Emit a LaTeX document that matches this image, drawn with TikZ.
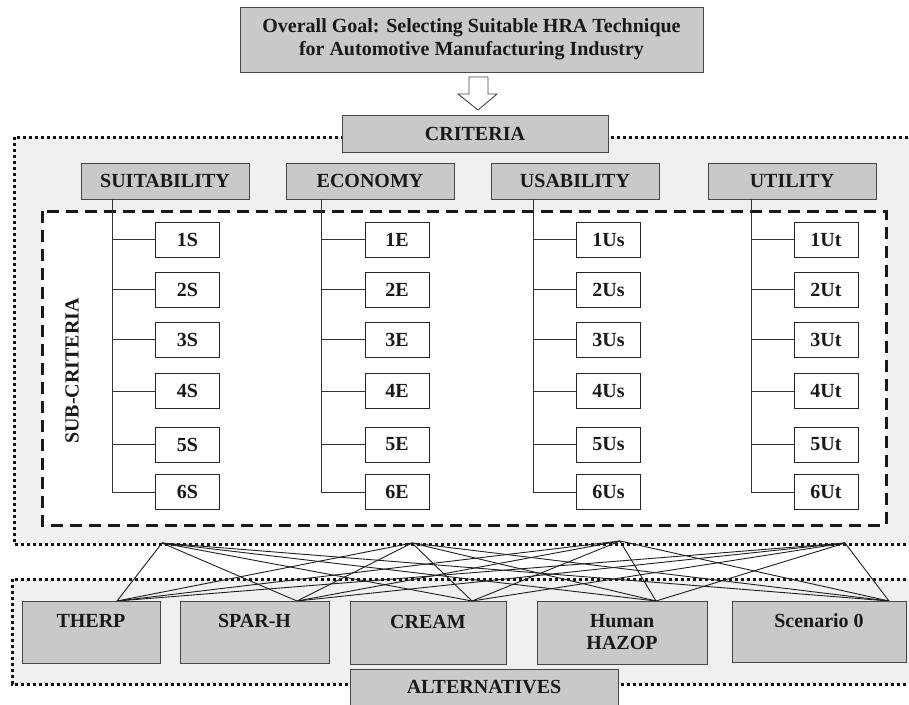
\documentclass[tikz,border=0pt]{standalone}
\usepackage{fontspec}
\setmainfont{Liberation Serif}
\begin{document}
\begin{tikzpicture}[x=1pt,y=-1pt,
  font=\fontsize{20}{22}\selectfont\bfseries,
  graybox/.style={draw=black!72, fill=black!21, line width=0.9pt, text=black!90, inner sep=0pt, align=center},
  subbox/.style={draw=black!85, fill=white, line width=0.9pt, text=black!90, inner sep=0pt, minimum width=64pt, minimum height=35pt},
  dotline/.style={line width=3pt, dash pattern=on 3.2pt off 2.8pt, draw=black!92},
  dashline/.style={line width=3pt, dash pattern=on 12pt off 7pt, draw=black!90},
  tree/.style={draw=black!80, line width=0.9pt},
  link/.style={draw=black!88, line width=0.9pt}]
\useasboundingbox (0,0) rectangle (909,704);
\fill[white] (0,0) rectangle (909,704);
% criteria region
\path[fill=black!6] (14,137) rectangle (912,544);
\draw[dotline] (14,137) rectangle (912,544);
% sub-criteria region
\fill[white] (42,211) rectangle (886,525);
\draw[dashline] (42,211) rectangle (886,525);
% alternatives region
\path[fill=black!6] (12,579) rectangle (912,684);
\draw[dotline] (12,579) rectangle (912,684);
% goal
\node[graybox, minimum width=463pt, minimum height=65pt, font=\fontsize{20}{23}\selectfont\bfseries] (goal) at (471.5,39.5) {Overall Goal: Selecting Suitable HRA Technique\\for Automotive Manufacturing Industry};
% block arrow
\draw[draw=black!72, fill=white, line width=0.9pt] (469,77) -- (488,77) -- (488,94) -- (497,94) -- (478,110) -- (458,94) -- (469,94) -- cycle;
\node[graybox, minimum width=266pt, minimum height=37pt] (crit) at (475,133.5) {CRITERIA};
% categories
\foreach \nm/\lbl/\cx in {cS/SUITABILITY/165, cE/ECONOMY/370, cUs/USABILITY/575, cUt/UTILITY/792}{
  \node[graybox, minimum width=168pt, minimum height=36pt] (\nm) at (\cx,181) {\lbl};
}
% sub-criteria trees
\foreach \nm/\suf/\lx/\bx in {cS/S/112/187.5, cE/E/321/397, cUs/Us/533/608.5, cUt/Ut/751/826}{
  \foreach \i/\yy in {1/239.5, 2/289.5, 3/339.5, 4/391, 5/444.5, 6/492}{
    \node[subbox] (s\suf\i) at (\bx,\yy) {\i\suf};
    \draw[tree] (\lx,\yy) -- (s\suf\i.west);
  }
  \draw[tree] (\nm.south -| \lx,0) -- (\lx,492);
}
\node[rotate=90, text=black!90] (subcrit) at (72,371) {SUB-CRITERIA};
% connection points
\coordinate (t1) at (162,543);
\coordinate (t2) at (412,543);
\coordinate (t3) at (620,541);
\coordinate (t4) at (845,543);
\coordinate (a1) at (117,601);
\coordinate (a2) at (297,601);
\coordinate (a3) at (472,601);
\coordinate (a4) at (656,601);
\coordinate (a5) at (889,601);
\foreach \t in {t1,t2,t3,t4}{
  \foreach \a in {a1,a2,a3,a4,a5}{
    \draw[link] (\t) -- (\a);
  }
}
% alternatives
\node[graybox, minimum width=138pt, minimum height=62pt] (therp) at (91,632) {THERP\\\mbox{}};
\node[graybox, minimum width=149pt, minimum height=62pt] (sparh) at (254.5,632) {SPAR-H\\\mbox{}};
\node[graybox, minimum width=156pt, minimum height=63pt] (cream) at (428,632.5) {CREAM\\\mbox{}};
\node[graybox, minimum width=170pt, minimum height=63pt] (hazop) at (622,632.5) {Human\\HAZOP};
\node[graybox, minimum width=174pt, minimum height=61pt] (scen) at (819,631.5) {Scenario 0\\\mbox{}};
\node[graybox, minimum width=268pt, minimum height=36pt] (alt) at (484,687) {ALTERNATIVES};
\end{tikzpicture}
\end{document}
